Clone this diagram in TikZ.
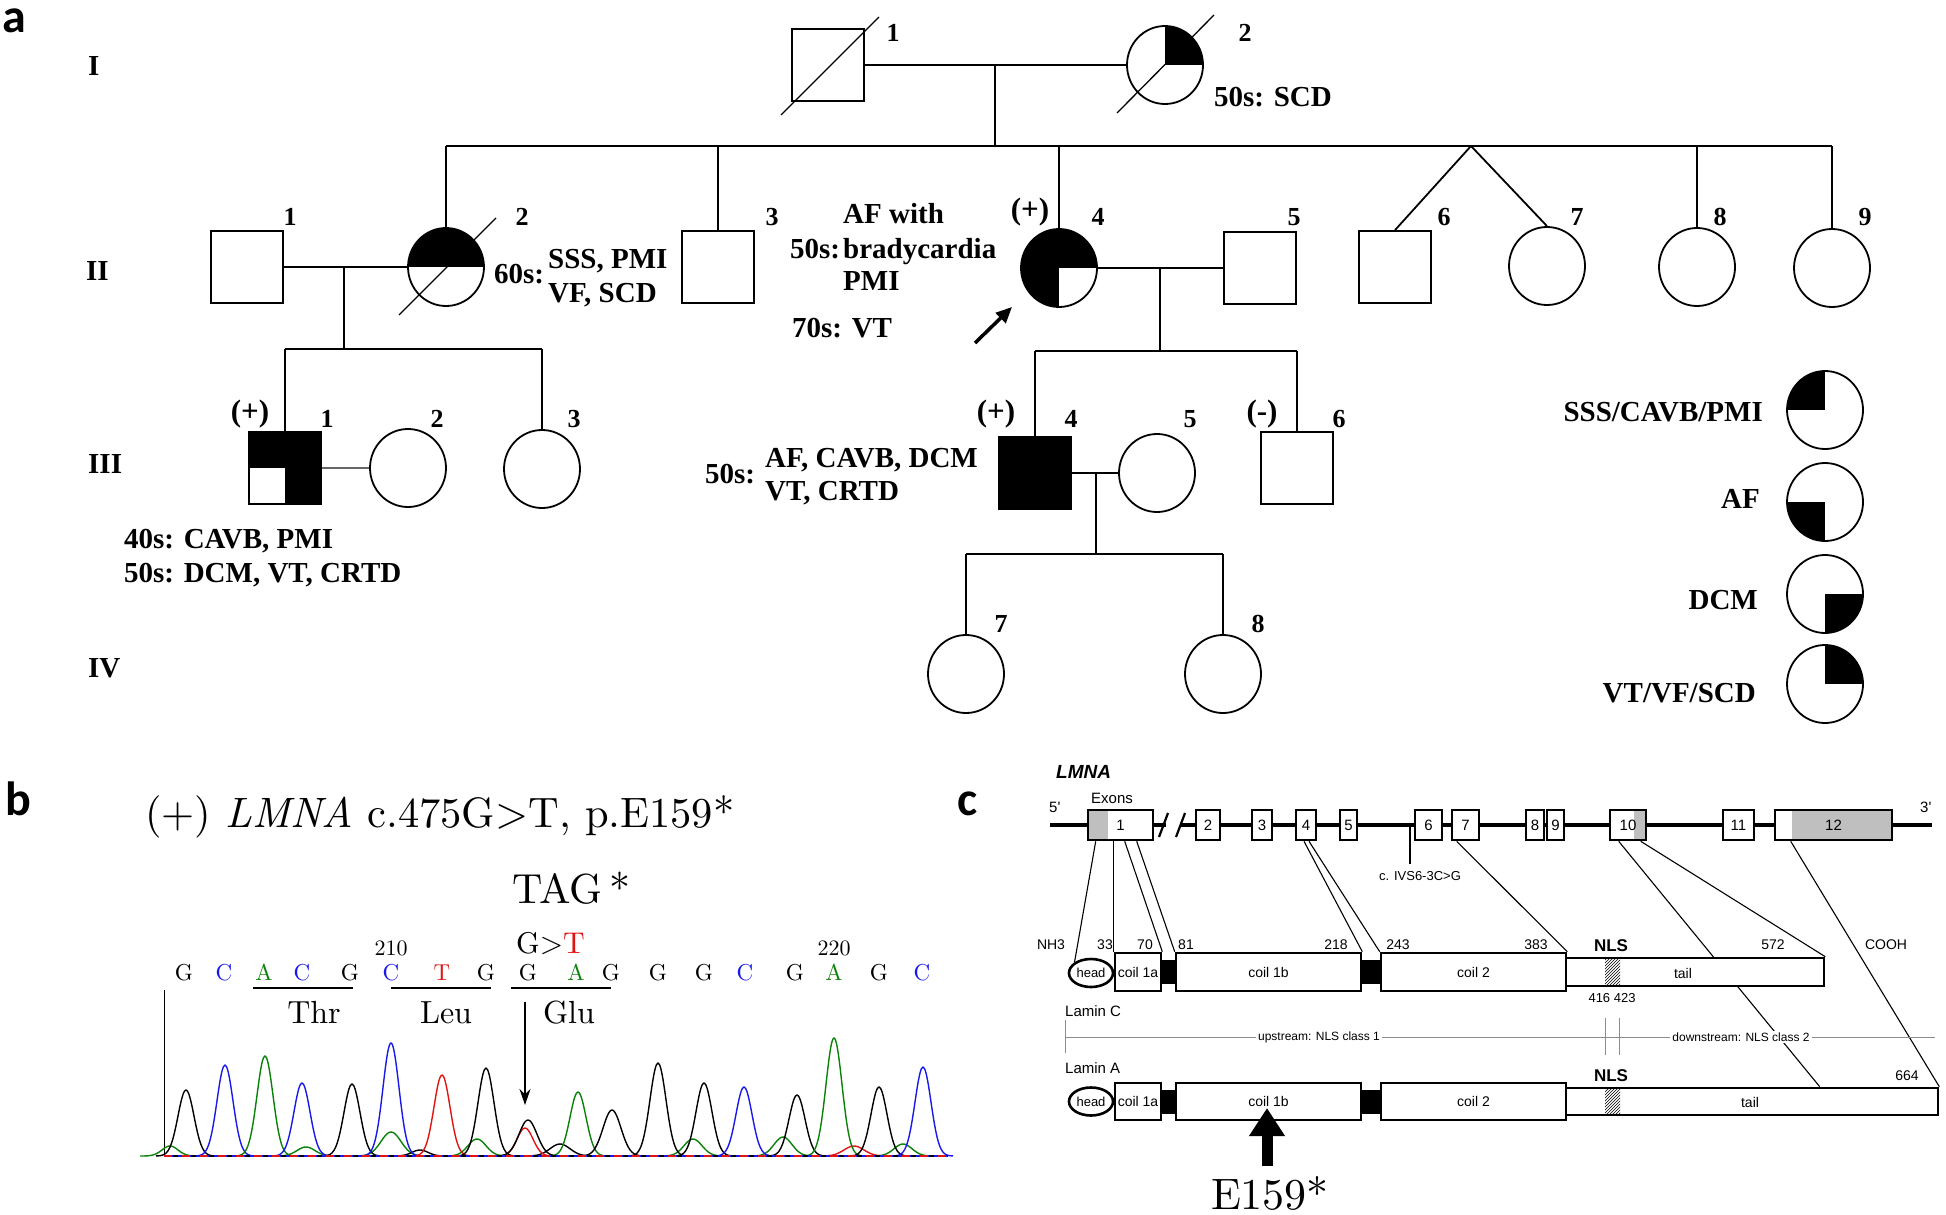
\documentclass[tikz,border=0pt]{standalone}
\usepackage{fontspec}
\newfontfamily\pedf{Liberation Serif}
\newfontfamily\arf{Liberation Sans}
\newfontfamily\labf{Carlito}
\newfontfamily\cmten{lmroman10-regular.otf}[ItalicFont=lmroman10-italic.otf]
\usetikzlibrary{shapes.geometric,arrows.meta,patterns,calc}
\definecolor{cblue}{RGB}{25,25,235}
\definecolor{cgreen}{RGB}{10,130,10}
\definecolor{cred}{RGB}{225,20,20}
\newcommand\fsz[1]{\fontsize{#1}{#1}\selectfont}
\newcommand\pk[4]{\draw[#1,line width=1.4pt] plot[domain=#2-30:#2+30,samples=41,smooth] (\x,{1156-#3*exp(-((\x-#2)^2)/(2*#4*#4))});}
\pgfdeclarelayer{back}
\pgfdeclarelayer{lines}
\pgfsetlayers{back,lines,main}
\tikzset{
 ped/.style={line width=1.8pt},
 slash/.style={line width=1.3pt},
 sq/.style={draw,line width=1.8pt,rectangle,minimum width=72pt,minimum height=72pt,inner sep=0pt,fill=white},
 ci/.style={draw,line width=1.8pt,ellipse,minimum width=76pt,minimum height=78pt,inner sep=0pt,fill=white},
 qUL/.style={path picture={\fill[black] (path picture bounding box.center) rectangle (path picture bounding box.north west);}},
 qUR/.style={path picture={\fill[black] (path picture bounding box.center) rectangle (path picture bounding box.north east);}},
 qLL/.style={path picture={\fill[black] (path picture bounding box.center) rectangle (path picture bounding box.south west);}},
 qLR/.style={path picture={\fill[black] (path picture bounding box.center) rectangle (path picture bounding box.south east);}},
 qTop/.style={path picture={\fill[black] (path picture bounding box.west) rectangle (path picture bounding box.north east);}},
 qLeftUR/.style={path picture={\fill[black] (path picture bounding box.north west) rectangle (path picture bounding box.south); \fill[black] (path picture bounding box.center) rectangle (path picture bounding box.north east);}},
 qNotLL/.style={path picture={\fill[black] (path picture bounding box.north west) rectangle (path picture bounding box.east); \fill[black] (path picture bounding box.center) rectangle (path picture bounding box.south east);}},
 pnum/.style={font=\pedf\bfseries\fsz{26},inner sep=0pt,anchor=base},
 ppar/.style={font=\pedf\bfseries\fsz{31},inner sep=0pt,anchor=base},
 ptxt/.style={font=\pedf\bfseries\fsz{29},inner sep=0pt,anchor=base west},
 pleg/.style={font=\pedf\bfseries\fsz{29},inner sep=0pt,anchor=base east},
 plab/.style={font=\labf\bfseries\fsz{48},inner sep=0pt,anchor=base west},
 btxt/.style={inner sep=0pt,anchor=base},
 ctxt/.style={font=\arf\fsz{14},inner sep=0pt},
 exon/.style={draw,line width=2.6pt,fill=white,minimum height=30pt,inner sep=0pt,font=\arf\fsz{15}},
 pbox/.style={draw,line width=2.6pt,fill=white,inner sep=0pt,font=\arf\fsz{14}},
 lk/.style={fill=black,inner sep=0pt,minimum height=24pt},
 cl/.style={line width=1.1pt},
}
\begin{document}
\begin{tikzpicture}[x=1pt,y=-1pt]
\begin{pgfonlayer}{back}
\fill[white] (0,0) rectangle (1946,1215);
\end{pgfonlayer}
\useasboundingbox (0,0) rectangle (1946,1215);

% ---------------- panel labels
\node[plab] (la) at (2,33) {a};
\node[plab] (lb) at (5,815) {b};
\node[plab] (lc) at (957,815) {c};

% ---------------- generation labels
\node[ptxt] (gI) at (88,75) {I};
\node[ptxt] (gII) at (86,280) {II};
\node[ptxt] (gIII) at (88,473) {III};
\node[ptxt] (gIV) at (88,677) {IV};

% ---------------- generation I
\node[sq] (I1) at (828,65) {};
\node[ci,qUR] (I2) at (1165,65) {};
\draw[ped] (I1) -- (I2);
\draw[slash] ([shift={(-47,50)}]I1.center) -- ([shift={(51,-48)}]I1.center);
\draw[slash] ([shift={(-48,48)}]I2.center) -- ([shift={(49,-50)}]I2.center);
\coordinate (mI) at (995,65);
\coordinate (sI) at (995,146);
\draw[ped] (mI) -- (sI);
\node[pnum] (nI1) at (893,42) {1};
\node[pnum] (nI2) at (1245,42) {2};
\node[ptxt] (tI2) at (1214,106) {50s: SCD};

% ---------------- generation II
\node[sq] (II1) at (247,267) {};
\node[ci,qTop] (II2) at (446,267) {};
\node[sq] (II3) at (718,267) {};
\node[ci,qLeftUR] (II4) at (1059,268) {};
\node[sq] (II5) at (1260,268) {};
\node[sq] (II6) at (1395,267) {};
\node[ci] (II7) at (1547,266) {};
\node[ci] (II8) at (1697,267) {};
\node[ci] (II9) at (1832,268) {};
\draw[slash] ([shift={(-47,48)}]II2.center) -- ([shift={(50,-49)}]II2.center);
\coordinate (sL) at (446,146);
\coordinate (sR) at (1832,146);
\draw[ped] (sL) -- (sR);
\draw[ped] (sL) -- (II2.north);
\draw[ped] (II3.north |- sI) -- (II3.north);
\draw[ped] (II4.north |- sI) -- (II4.north);
\coordinate (tw) at (1471,146);
\draw[ped] (tw) -- (II6.north);
\draw[ped] (tw) -- (II7.north);
\draw[ped] (II8.north |- sI) -- (II8.north);
\draw[ped] (sR) -- (II9.north);
\draw[ped] (II1) -- (II2);
\draw[ped] (II4) -- (II5);
\coordinate (mII1) at (344,267);
\coordinate (sIII1) at (344,349);
\draw[ped] (mII1) -- (sIII1);
\coordinate (mII2) at (1160,268);
\coordinate (sIII2) at (1160,351);
\draw[ped] (mII2) -- (sIII2);

\node[pnum] (nII1) at (290,225) {1};
\node[pnum] (nII2) at (522,225) {2};
\node[pnum] (nII3) at (772,225) {3};
\node[ppar] (pII4) at (1030,219) {(+)};
\node[pnum] (nII4) at (1098,225) {4};
\node[pnum] (nII5) at (1294,225) {5};
\node[pnum] (nII6) at (1444,225) {6};
\node[pnum] (nII7) at (1577,225) {7};
\node[pnum] (nII8) at (1720,225) {8};
\node[pnum] (nII9) at (1865,225) {9};

\node[ptxt] (t22a) at (494,283) {60s:};
\node[ptxt] (t22b) at (548,268) {SSS, PMI};
\node[ptxt] (t22c) at (548,302) {VF, SCD};
\node[ptxt] (t24a) at (843,223) {AF with};
\node[ptxt] (t24b) at (790,258) {50s:};
\node[ptxt] (t24c) at (843,258) {bradycardia};
\node[ptxt] (t24d) at (843,290) {PMI};
\node[ptxt] (t24e) at (792,337) {70s: VT};
\coordinate (arA) at (975,343);
\coordinate (arB) at (1012,307);
\draw[line width=3.5pt,-{Triangle[length=16pt,width=14pt]}] (arA) -- (arB);

% ---------------- generation III
\node[sq,qNotLL] (III1) at (285,468) {};
\node[ci] (III2) at (408,468) {};
\node[ci] (III3) at (542,469) {};
\node[sq,fill=black] (III4) at (1035,473) {};
\node[ci] (III5) at (1157,473) {};
\node[sq] (III6) at (1297,468) {};
\draw[ped] (III1.north |- sIII1) -- (III3.north |- sIII1);
\draw[ped] (III1.north |- sIII1) -- (III1.north);
\draw[ped] (III3.north |- sIII1) -- (III3.north);
\draw[ped,black!60] (III1) -- (III2);
\draw[ped] (III4.north |- sIII2) -- (III6.north |- sIII2);
\draw[ped] (III4.north |- sIII2) -- (III4.north);
\draw[ped] (III6.north |- sIII2) -- (III6.north);
\draw[ped] (III4) -- (III5);
\coordinate (mIII) at (1096,473);
\coordinate (sIV) at (1096,554);
\draw[ped] (mIII) -- (sIV);

\node[ppar] (pIII1) at (250,421) {(+)};
\node[pnum] (nIII1) at (327,427) {1};
\node[pnum] (nIII2) at (437,427) {2};
\node[pnum] (nIII3) at (574,427) {3};
\node[ppar] (pIII4) at (996,421) {(+)};
\node[pnum] (nIII4) at (1071,427) {4};
\node[pnum] (nIII5) at (1190,427) {5};
\node[ppar] (mIII6) at (1262,421) {(-)};
\node[pnum] (nIII6) at (1339,427) {6};

\node[ptxt] (t31a) at (124,548) {40s: CAVB, PMI};
\node[ptxt] (t31b) at (124,582) {50s: DCM, VT, CRTD};
\node[ptxt] (t34a) at (705,483) {50s:};
\node[ptxt] (t34b) at (765,467) {AF, CAVB, DCM};
\node[ptxt] (t34c) at (765,500) {VT, CRTD};

% ---------------- generation IV
\node[ci] (IV7) at (966,674) {};
\node[ci] (IV8) at (1223,674) {};
\draw[ped] (IV7.north |- sIV) -- (IV8.north |- sIV);
\draw[ped] (IV7.north |- sIV) -- (IV7.north);
\draw[ped] (IV8.north |- sIV) -- (IV8.north);
\node[pnum] (nIV7) at (1001,632) {7};
\node[pnum] (nIV8) at (1258,632) {8};

% ---------------- legend
\node[ci,qUL] (L1) at (1825,410) {};
\node[ci,qLL] (L2) at (1825,502) {};
\node[ci,qLR] (L3) at (1825,594) {};
\node[ci,qUR] (L4) at (1825,684) {};
\node[pleg] (tL1) at (1763,421) {SSS/CAVB/PMI};
\node[pleg] (tL2) at (1760,508) {AF};
\node[pleg] (tL3) at (1758,609) {DCM};
\node[pleg] (tL4) at (1756,702) {VT/VF/SCD};

% ================= panel b
\node[btxt,anchor=base west,font=\cmten\fsz{42.5}] (bt) at (145,827) {(+) \textit{LMNA} c.475G>T, p.E159*};
\node[btxt,anchor=base west,font=\cmten\fsz{42}] (tag) at (512,903) {TAG\,*};
\node[btxt,anchor=base west,font=\cmten\fsz{30}] (gt) at (516,953) {G>\textcolor{cred}{T}};
\node[btxt,font=\cmten\fsz{22}] (n210) at (391,955) {210};
\node[btxt,font=\cmten\fsz{22}] (n220) at (834,955) {220};
\foreach \xx/\bb/\cc [count=\i] in {184/G/black,224/C/cblue,264/A/cgreen,302/C/cblue,350/G/black,391/C/cblue,442/T/cred,486/G/black,528/G/black,576/A/cgreen,611/G/black,658/G/black,704/G/black,745/C/cblue,795/G/black,834/A/cgreen,879/G/black,922/C/cblue}
  \node[btxt,font=\cmten\fsz{23},text=\cc] (base\i) at (\xx,980) {\bb};
\draw[line width=2.6pt] (253,988) -- (353,988);
\draw[line width=2.6pt] (391,988) -- (491,988);
\draw[line width=2.6pt] (511,988) -- (611,988);
\node[btxt,font=\cmten\fsz{32}] (thr) at (314,1023) {Thr};
\node[btxt,font=\cmten\fsz{32}] (leu) at (446,1023) {Leu};
\node[btxt,font=\cmten\fsz{32}] (glu) at (569,1023) {Glu};
\draw[line width=1pt] (164,990) -- (164,1157);
% small peaks
\pk{cgreen}{170}{10}{8}
\pk{cgreen}{306}{9}{9}
\pk{cgreen}{391}{24}{10}
\pk{black}{420}{6}{8}
\pk{cgreen}{477}{17}{9}
\pk{black}{560}{12}{10}
\pk{cgreen}{693}{17}{9}
\pk{cgreen}{783}{19}{9}
\pk{cred}{854}{10}{10}
\pk{cgreen}{903}{12}{9}
% main peaks
\pk{black}{186}{66}{8}
\pk{cblue}{225}{91}{8}
\pk{cgreen}{265}{100}{8}
\pk{cblue}{302}{73}{8}
\pk{black}{352}{72}{8}
\pk{cblue}{391}{113}{8}
\pk{cred}{442}{81}{8}
\pk{black}{486}{88}{8}
\pk{cred}{525}{28}{8}
\pk{black}{528}{36}{9}
\pk{cgreen}{578}{64}{8}
\pk{black}{612}{46}{9}
\pk{black}{658}{93}{8}
\pk{black}{704}{73}{8}
\pk{cblue}{744}{69}{8}
\pk{black}{797}{61}{8}
\pk{cgreen}{834}{118}{8}
\pk{black}{879}{69}{8}
\pk{cblue}{923}{89}{8}
\draw[cblue,line width=2pt] (164,1156) -- (948,1156);
\draw[cred,line width=1.6pt,dash pattern=on 8pt off 10pt] (164,1156) -- (948,1156);
\draw[black,line width=1.6pt,dash pattern=on 5pt off 13pt,dash phase=9pt] (164,1156) -- (948,1156);
\coordinate (bA) at (525,1002);
\coordinate (bB) at (525,1105);
\draw[line width=2pt,-{Stealth[length=16pt,width=11pt]}] (bA) -- (bB);

% ================= panel c
\node[anchor=base west,inner sep=0pt,font=\arf\bfseries\itshape\fsz{19}] (lmna) at (1056,778) {LMNA};
\node[anchor=base west,inner sep=0pt,font=\arf\fsz{15}] (exons) at (1091,803) {Exons};
\node[anchor=base west,inner sep=0pt,font=\arf\fsz{15}] (p5) at (1049,812) {5'};
\node[anchor=base west,inner sep=0pt,font=\arf\fsz{15}] (p3) at (1920,812) {3'};
\draw[line width=4pt] (1050,825) -- (1166,825);
\draw[line width=4pt] (1181,825) -- (1932,825);
\draw[line width=2.2pt] (1159,837) -- (1168,813);
\draw[line width=2.2pt] (1176,837) -- (1185,813);
\draw[cl] (1410,825) -- (1410,864);
\node[ctxt,font=\arf\fsz{13}] (ivs) at (1420,876) {c. IVS6-3C>G};
\node[exon,minimum width=65pt,path picture={\fill[black!25] (path picture bounding box.north west) rectangle ([xshift=20pt]path picture bounding box.south west);}] (e1) at (1120.5,825) {1};
\node[exon,minimum width=24pt] (e2) at (1208,825) {2};
\node[exon,minimum width=20pt] (e3) at (1262,825) {3};
\node[exon,minimum width=20pt] (e4) at (1306,825) {4};
\node[exon,minimum width=17pt] (e5) at (1348.5,825) {5};
\node[exon,minimum width=27pt] (e6) at (1428.5,825) {6};
\node[exon,minimum width=27pt] (e7) at (1465.5,825) {7};
\node[exon,minimum width=18pt] (e8) at (1535,825) {8};
\node[exon,minimum width=17pt] (e9) at (1555.5,825) {9};
\node[exon,minimum width=36pt,path picture={\fill[black!25] ([xshift=-12pt]path picture bounding box.north east) rectangle (path picture bounding box.south east);}] (e10) at (1628,825) {10};
\node[exon,minimum width=31pt] (e11) at (1738.5,825) {11};
\node[exon,minimum width=117pt,path picture={\fill[black!25] ([xshift=17pt]path picture bounding box.north west) rectangle (path picture bounding box.south east);}] (e12) at (1833.5,825) {12};

% Lamin C
\node[pbox,ellipse,minimum width=44pt,minimum height=28pt,font=\arf\fsz{13}] (hC) at (1091,973) {head};
\node[pbox,minimum width=46pt,minimum height=38pt] (c1aC) at (1138,972) {coil 1a};
\node[lk,minimum width=15pt] (lkC1) at (1168.5,972) {};
\node[pbox,minimum width=185pt,minimum height=38pt] (c1bC) at (1268.5,972) {coil 1b};
\node[lk,minimum width=20pt] (lkC2) at (1371,972) {};
\node[pbox,minimum width=185pt,minimum height=38pt] (c2C) at (1473.5,972) {coil 2};
\node[pbox,minimum width=258pt,minimum height=28pt] (tC) at (1695,972) {};
\fill[pattern=north east lines] (1605,959) rectangle (1620,985);
\node[ctxt] (tailC) at (1683,973) {tail};
% Lamin A
\node[pbox,ellipse,minimum width=44pt,minimum height=28pt,font=\arf\fsz{13}] (hA) at (1091,1101.5) {head};
\node[pbox,minimum width=46pt,minimum height=37pt] (c1aA) at (1138,1101.5) {coil 1a};
\node[lk,minimum width=15pt] (lkA1) at (1168.5,1101.5) {};
\node[pbox,minimum width=185pt,minimum height=37pt] (c1bA) at (1268.5,1101.5) {coil 1b};
\node[lk,minimum width=20pt] (lkA2) at (1371,1101.5) {};
\node[pbox,minimum width=185pt,minimum height=37pt] (c2A) at (1473.5,1101.5) {coil 2};
\node[pbox,minimum width=372pt,minimum height=27pt] (tA) at (1752,1101.5) {};
\fill[pattern=north east lines] (1605,1089) rectangle (1620,1114);
\node[ctxt] (tailA) at (1750,1102) {tail};

% connectors exon -> protein (under boxes)
\begin{pgfonlayer}{lines}
\draw[cl] ($(e1.south west)+(9,0)$) -- (hC.north west);
\draw[cl] ($(e1.south west)+(27,0)$) -- (c1aC.north west);
\draw[cl] ($(e1.south west)+(38,0)$) -- (c1aC.north east);
\draw[cl] ($(e1.south west)+(50,0)$) -- (c1bC.north west);
\draw[cl] ($(e4.south)+(-2,0)$) -- (c1bC.north east);
\draw[cl] ($(e4.south)+(3,0)$) -- (c2C.north west);
\draw[cl] ($(e7.south west)+(6,0)$) -- (c2C.north east);
\draw[cl] ($(e10.south west)+(10,0)$) -- ($(tA.north west)+(255,0)$);
\draw[cl] ($(e10.south west)+(32,0)$) -- (tC.north east);
\draw[cl] ($(e12.south west)+(17,0)$) -- (tA.north east);
\end{pgfonlayer}

% labels above Lamin C
\node[ctxt] (nh3) at (1051,945) {NH3};
\node[ctxt] (n33) at (1105,945) {33};
\node[ctxt] (n70) at (1145,945) {70};
\node[ctxt] (n81) at (1186,945) {81};
\node[ctxt] (n218) at (1336,945) {218};
\node[ctxt] (n243) at (1398,945) {243};
\node[ctxt] (n383) at (1536,945) {383};
\node[ctxt,font=\arf\bfseries\fsz{17}] (nlsC) at (1611,946) {NLS};
\node[ctxt] (n572) at (1773,945) {572};
\node[ctxt] (cooh) at (1886,945) {COOH};
\node[ctxt,font=\arf\fsz{13}] (n416) at (1612,998) {416\ 423};
\node[anchor=base west,inner sep=0pt,font=\arf\fsz{15}] (lamC) at (1065,1016) {Lamin C};
\node[anchor=base west,inner sep=0pt,font=\arf\fsz{15}] (lamA) at (1065,1073) {Lamin A};
\draw[black!45,line width=1pt] (1065,1037) -- (1935,1037);
\draw[black!45,line width=1pt] (1065,1020) -- (1065,1053);
\draw[black!45,line width=1pt] (1605,1018) -- (1605,1055);
\draw[black!45,line width=1pt] (1619,1018) -- (1619,1055);
\node[ctxt,font=\arf\fsz{12},fill=white,inner sep=2pt] (ups) at (1319,1037) {upstream: NLS class 1};
\node[ctxt,font=\arf\fsz{12},fill=white,inner sep=2pt] (dns) at (1741,1037) {downstream: NLS class 2};
\node[ctxt,font=\arf\bfseries\fsz{17}] (nlsA) at (1611,1076) {NLS};
\node[ctxt] (n664) at (1907,1076) {664};

% big arrow and E159*
\coordinate (cA) at (1267,1166);
\coordinate (cB) at (1267,1108);
\draw[line width=11pt,-{Triangle[length=28pt,width=34pt]}] (cA) -- (cB);
\node[btxt,font=\cmten\fsz{44}] (e159) at (1270,1209) {E159*};
\end{tikzpicture}
\end{document}
